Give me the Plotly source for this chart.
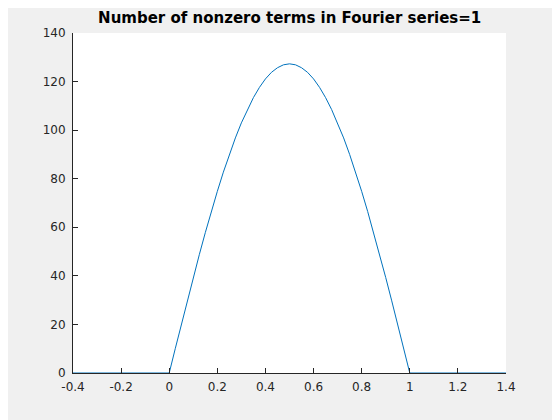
import plotly.graph_objects as go

# curve: zero outside [0, 1], hump peaking near 127.3 at x=0.5
x_vals = [-0.4, -0.2, 0.0, 0.025, 0.05, 0.075, 0.1, 0.125, 0.15, 0.175, 0.2, 0.225,
          0.25, 0.275, 0.3, 0.325, 0.35, 0.375, 0.4, 0.425, 0.45, 0.475, 0.5,
          0.525, 0.55, 0.575, 0.6, 0.625, 0.65, 0.675, 0.7, 0.725, 0.75, 0.775,
          0.8, 0.825, 0.85, 0.875, 0.9, 0.925, 0.95, 0.975, 1.0, 1.2, 1.4]
y_vals = [0, 0, 0, 10.0, 19.9, 29.7, 39.3, 48.7, 57.8, 66.5, 74.8, 82.7,
          90.0, 96.8, 103.0, 108.5, 113.4, 117.6, 121.1, 123.8, 125.7, 126.9, 127.3,
          126.9, 125.7, 123.8, 121.1, 117.6, 113.4, 108.5, 103.0, 96.8, 90.0, 82.7,
          74.8, 66.5, 57.8, 48.7, 39.3, 29.7, 19.9, 10.0, 0, 0, 0]

x_ticks = [-0.4, -0.2, 0, 0.2, 0.4, 0.6, 0.8, 1, 1.2, 1.4]
x_labels = ["-0.4", "-0.2", "0", "0.2", "0.4", "0.6", "0.8", "1", "1.2", "1.4"]
y_ticks = [0, 20, 40, 60, 80, 100, 120, 140]

fig = go.Figure()
fig.add_trace(go.Scatter(
    x=x_vals, y=y_vals, mode='lines',
    line=dict(color='#0072BD', width=1),
    showlegend=False, hoverinfo='skip'
))

fig.update_layout(
    width=560, height=420,
    margin=dict(l=65, r=62, t=25, b=55),
    paper_bgcolor='#F0F0F0',
    plot_bgcolor='white',
    font=dict(family='DejaVu Sans', size=12, color='#262626'),
    title=dict(text='<b>Number of nonzero terms in Fourier series=1</b>',
               x=0.503, xanchor='center', y=0.976, yanchor='middle',
               font=dict(size=15, color='black')),
)

fig.update_xaxes(
    range=[-0.4, 1.4], tickvals=x_ticks, ticktext=x_labels,
    showgrid=False, zeroline=False, showline=True, linecolor='#262626', linewidth=1,
    ticks='inside', ticklen=5, tickcolor='#262626', mirror=False,
    ticklabelstandoff=3
)
fig.update_yaxes(
    range=[0, 140], tickvals=y_ticks,
    showgrid=False, zeroline=False, showline=True, linecolor='#262626', linewidth=1,
    ticks='inside', ticklen=5, tickcolor='#262626', mirror=False,
    ticklabelstandoff=4
)

fig.write_html("out.html")
